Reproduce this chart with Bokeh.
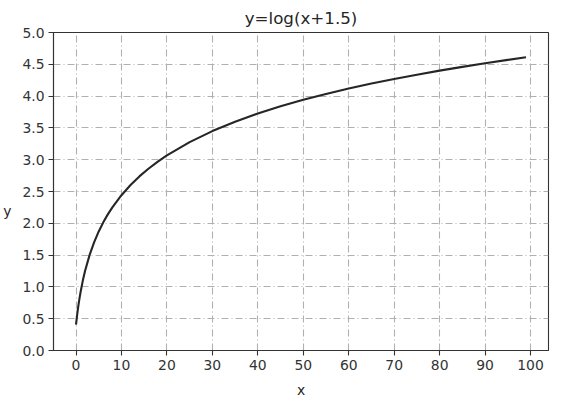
from bokeh.plotting import figure
from bokeh.models import Range1d, FixedTicker
from bokeh.embed import file_html
from bokeh.resources import INLINE

# Values
xs = [0, 0.25, 0.5, 0.75, 1, 1.5, 2, 3, 4, 5, 6, 7, 8, 10, 12, 14, 16, 18, 20,
      25, 30, 35, 40, 45, 50, 55, 60, 65, 70, 75, 80, 85, 90, 95, 99]
ys = [0.405, 0.560, 0.693, 0.811, 0.916, 1.099, 1.253, 1.504, 1.705, 1.872,
      2.015, 2.140, 2.251, 2.442, 2.603, 2.741, 2.862, 2.970, 3.068, 3.277,
      3.450, 3.597, 3.726, 3.839, 3.942, 4.034, 4.119, 4.197, 4.270, 4.337,
      4.401, 4.460, 4.516, 4.570, 4.610]

x_ticks = [0, 10, 20, 30, 40, 50, 60, 70, 80, 90, 100]
y_ticks = [0.0, 0.5, 1.0, 1.5, 2.0, 2.5, 3.0, 3.5, 4.0, 4.5, 5.0]
y_tick_labels = {t: f"{t:.1f}" for t in y_ticks}

p = figure(width=572, height=400, output_backend="svg", toolbar_location=None,
           x_range=Range1d(-4.95, 103.95), y_range=Range1d(0, 5),
           title="y=log(x+1.5)",
           min_border_left=52, min_border_right=24, min_border_top=31,
           min_border_bottom=48)

p.line(xs, ys, line_color="#262626", line_width=2.1)

p.title.align = "center"
p.title.text_font = "DejaVu Sans"
p.title.text_font_size = "16.7px"
p.title.text_font_style = "normal"
p.title.text_color = "#262626"
p.title.offset = 0
p.title.standoff = 10

p.outline_line_color = "#333333"
p.outline_line_width = 1.1
p.outline_line_alpha = 1

for ax in (p.xaxis[0], p.yaxis[0]):
    ax.axis_line_color = "#333333"
    ax.axis_line_width = 1.1
    ax.major_tick_line_color = "#333333"
    ax.major_tick_line_width = 1.1
    ax.major_tick_out = 5
    ax.major_tick_in = 0
    ax.minor_tick_line_color = None
    ax.major_label_text_font = "DejaVu Sans"
    ax.major_label_text_font_size = "13.9px"
    ax.major_label_text_color = "#333333"
    ax.major_label_standoff = 4
    ax.axis_label_text_font = "DejaVu Sans"
    ax.axis_label_text_font_size = "13.9px"
    ax.axis_label_text_font_style = "normal"
    ax.axis_label_text_color = "#262626"

p.xaxis.ticker = FixedTicker(ticks=x_ticks)
p.yaxis.ticker = FixedTicker(ticks=y_ticks)
p.yaxis.major_label_overrides = y_tick_labels
p.xaxis.axis_label = "x"
p.xaxis.axis_label_standoff = 9
p.yaxis.axis_label = " \n \ny"
p.yaxis.axis_label_orientation = "horizontal"
p.yaxis.axis_label_standoff = 8

for g in (p.xgrid[0], p.ygrid[0]):
    g.grid_line_color = "#b0b0b0"
    g.grid_line_dash = "7 3 1 3"
    g.grid_line_width = 1.1

open("out.html", "w").write(file_html(p, INLINE))
